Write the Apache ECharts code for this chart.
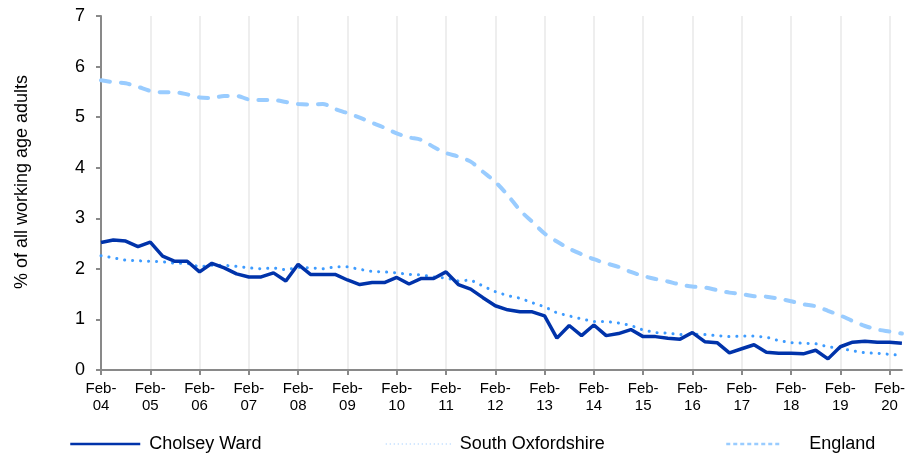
<!DOCTYPE html>
<html>
<head>
<meta charset="utf-8">
<script src="https://cdn.jsdelivr.net/npm/echarts@6/dist/echarts.min.js"></script>
<style>
html,body{margin:0;padding:0;background:#fff;}
#chart{width:908px;height:457px;}
</style>
</head>
<body>
<div id="chart"></div>
<script>
var quarters = ['Feb', 'May', 'Aug', 'Nov'];
var years = ['04','05','06','07','08','09','10','11','12','13','14','15','16','17','18','19','20'];
var categories = [];
years.forEach(function (y) { quarters.forEach(function (q) { categories.push(q + '-' + y); }); });
categories = categories.slice(0, 66); // Feb-04 .. May-20

var cholseyWard = [2.52,2.57,2.55,2.44,2.53,2.25,2.15,2.15,1.94,2.11,2.02,1.90,1.84,1.84,1.92,1.76,
  2.09,1.89,1.89,1.89,1.78,1.69,1.73,1.73,1.83,1.70,1.81,1.81,1.94,1.69,1.60,1.43,
  1.27,1.19,1.15,1.15,1.07,0.63,0.88,0.68,0.89,0.68,0.72,0.80,0.66,0.66,0.63,0.61,
  0.74,0.56,0.54,0.34,0.42,0.50,0.35,0.33,0.33,0.32,0.39,0.22,0.46,0.55,0.57,0.55,
  0.55,0.53];
var southOxfordshire = [2.26,2.22,2.17,2.16,2.15,2.14,2.11,2.11,2.04,2.07,2.07,2.05,2.02,2.00,2.02,1.98,
  2.03,2.02,2.00,2.04,2.04,1.99,1.95,1.94,1.92,1.89,1.88,1.84,1.82,1.76,1.78,1.66,
  1.55,1.47,1.42,1.33,1.25,1.13,1.07,1.01,0.96,0.96,0.93,0.88,0.79,0.74,0.73,0.70,
  0.71,0.70,0.68,0.66,0.67,0.67,0.65,0.58,0.54,0.53,0.52,0.46,0.43,0.38,0.34,0.33,
  0.31,0.29];
var england = [5.73,5.69,5.67,5.60,5.52,5.49,5.49,5.45,5.39,5.38,5.42,5.42,5.35,5.34,5.34,5.30,
  5.26,5.25,5.26,5.16,5.08,4.99,4.89,4.79,4.68,4.60,4.55,4.41,4.29,4.22,4.12,3.92,
  3.72,3.46,3.16,2.93,2.70,2.54,2.40,2.29,2.19,2.11,2.04,1.94,1.86,1.80,1.75,1.69,
  1.65,1.63,1.58,1.53,1.50,1.46,1.45,1.41,1.36,1.30,1.26,1.17,1.08,0.97,0.87,0.80,
  0.76,0.72];
var yTicks = [0, 1, 2, 3, 4, 5, 6, 7];

var font = 'Liberation Sans, Arial, sans-serif';
var chart = echarts.init(document.getElementById('chart'), null, {renderer: 'canvas'});
var legendText = {fontFamily: font, fontSize: 18, color: '#000'};
var hiddenSymbol = {opacity: 0, borderWidth: 0};
chart.setOption({
  animation: false,
  backgroundColor: '#fff',
  grid: {left: 101, right: 1, top: 16, bottom: 87, containLabel: false},
  legend: [
    {data: ['Cholsey Ward'], left: 64, top: 430, itemWidth: 70, itemHeight: 14, itemStyle: hiddenSymbol,
     lineStyle: {width: 2.5}, textStyle: Object.assign({padding: [0,0,0,4]}, legendText)},
    {data: ['South Oxfordshire'], left: 380, top: 430, itemWidth: 65, itemHeight: 14, itemStyle: hiddenSymbol,
     lineStyle: {width: 1.5, color: '#b3d7ff', type: [1, 3], cap: 'butt'}, textStyle: Object.assign({padding: [0,0,0,4]}, legendText)},
    {data: ['England'], left: 720, top: 430, itemWidth: 53, itemHeight: 14, itemStyle: hiddenSymbol,
     lineStyle: {width: 2.5, type: [4, 3], cap: 'butt'}, textStyle: Object.assign({padding: [0,0,0,25]}, legendText)}
  ],
  xAxis: {
    type: 'category',
    data: categories,
    boundaryGap: false,
    axisLine: {lineStyle: {color: '#898989', width: 2}},
    axisTick: {show: true, interval: 3, length: 5, lineStyle: {color: '#898989', width: 2}},
    axisLabel: {
      interval: 3, margin: 10, color: '#000', fontFamily: font, fontSize: 15, lineHeight: 17,
      formatter: function (v) { return v.replace('-', '-\n'); }
    },
    splitLine: {show: true, interval: 3, lineStyle: {color: '#eeeeee', width: 2}}
  },
  yAxis: {
    type: 'value',
    min: yTicks[0], max: yTicks[yTicks.length - 1], interval: 1,
    name: '% of all working age adults',
    nameLocation: 'middle',
    nameGap: 70,
    nameTextStyle: {fontFamily: font, fontSize: 18, color: '#000', padding: [0, 0, 0, 22]},
    axisLine: {show: true, lineStyle: {color: '#898989', width: 2}},
    axisTick: {show: true, length: 5, lineStyle: {color: '#898989', width: 2}},
    axisLabel: {margin: 16, color: '#000', fontFamily: font, fontSize: 18},
    splitLine: {show: false}
  },
  series: [
    {
      name: 'Cholsey Ward', type: 'line', data: cholseyWard, showSymbol: false, symbol: 'none',
      lineStyle: {color: '#0033aa', width: 3.5}, itemStyle: {color: '#0033aa'}, z: 3
    },
    {
      name: 'South Oxfordshire', type: 'line', data: southOxfordshire, showSymbol: false, symbol: 'none',
      lineStyle: {color: '#3d9bff', width: 3, type: [0.1, 7.9], cap: 'round'}, itemStyle: {color: '#3d9bff'}, z: 2
    },
    {
      name: 'England', type: 'line', data: england, showSymbol: false, symbol: 'none', smooth: 0.3,
      lineStyle: {color: '#99ccff', width: 4, type: [9, 11], cap: 'round'}, itemStyle: {color: '#99ccff'}, z: 1
    }
  ]
});
</script>
</body>
</html>
